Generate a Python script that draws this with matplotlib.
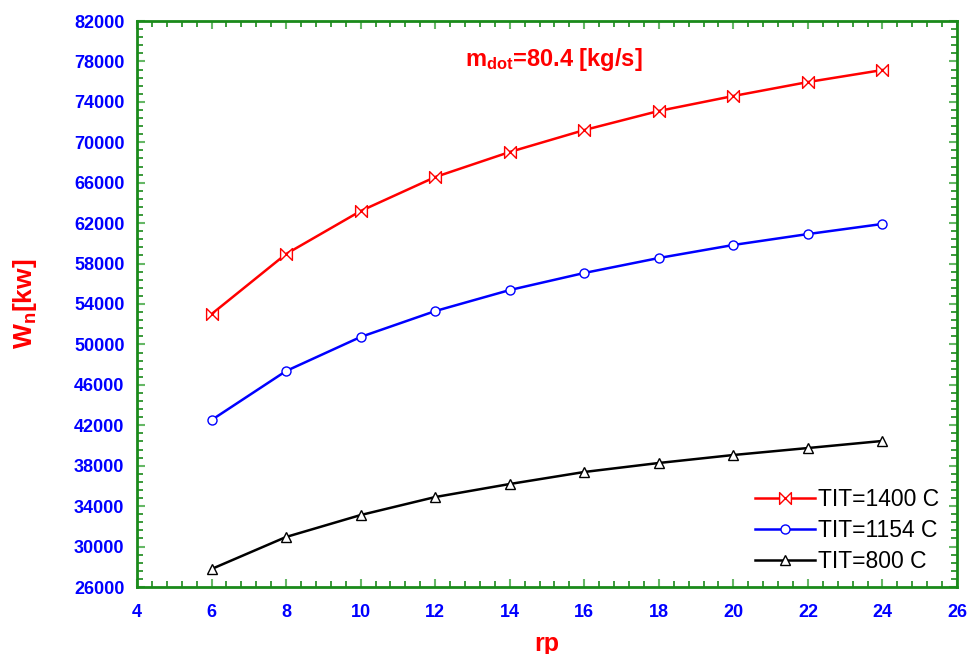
import matplotlib
matplotlib.use("Agg")
import matplotlib.pyplot as plt
from matplotlib.path import Path
import numpy as np

plt.rcParams['font.family'] = ['Liberation Sans', 'DejaVu Sans']
plt.rcParams['mathtext.fontset'] = 'custom'
plt.rcParams['mathtext.rm'] = 'Liberation Sans:bold'
plt.rcParams['mathtext.bf'] = 'Liberation Sans:bold'
plt.rcParams['mathtext.it'] = 'Liberation Sans:bold'

rp = [6, 8, 10, 12, 14, 16, 18, 20, 22, 24]
w_1400 = [53000, 58950, 63200, 66560, 69040, 71210, 73100, 74580, 75960, 77150]
w_1154 = [42520, 47370, 50740, 53300, 55380, 57070, 58550, 59840, 60920, 61920]
w_800 = [27780, 30950, 33120, 34900, 36190, 37380, 38270, 39060, 39750, 40450]
labels = ['TIT=1400 C', 'TIT=1154 C', 'TIT=800 C']
x_ticks = [4, 6, 8, 10, 12, 14, 16, 18, 20, 22, 24, 26]
y_ticks = [26000, 30000, 34000, 38000, 42000, 46000, 50000, 54000,
           58000, 62000, 66000, 70000, 74000, 78000, 82000]

bowtie = Path([(-1, -1), (-1, 1), (1, -1), (1, 1), (-1, -1)],
              [Path.MOVETO, Path.LINETO, Path.LINETO, Path.LINETO, Path.CLOSEPOLY])

fig = plt.figure(figsize=(9.69, 6.54), dpi=100)
ax = fig.add_axes([137/969, 1-587/654, (957-137)/969, (587-21)/654])

ax.plot(rp, w_1400, color='red', lw=1.8, marker=bowtie, ms=8.5, mfc='white', mec='red', mew=1.0, label=labels[0])
ax.plot(rp, w_1154, color='blue', lw=1.8, marker='o', ms=6.5, mfc='white', mec='blue', mew=1.0, label=labels[1])
ax.plot(rp, w_800, color='black', lw=1.8, marker='^', ms=7.5, mfc='white', mec='black', mew=1.0, label=labels[2])

ax.set_xlim(x_ticks[0], x_ticks[-1])
ax.set_ylim(y_ticks[0], y_ticks[-1])
ax.set_xticks(x_ticks)
ax.set_yticks(y_ticks)
ax.set_xticks(np.arange(x_ticks[0], x_ticks[-1] + 0.01, 0.4), minor=True)
ax.set_yticks(np.arange(y_ticks[0], y_ticks[-1] + 1, 800), minor=True)

green = '#1a8a1a'
for s in ax.spines.values():
    s.set_color(green)
    s.set_linewidth(2)
ax.tick_params(which='both', direction='in', top=True, right=True, color=green)
ax.tick_params(which='major', length=6, width=1.5, colors='#66b866', labelcolor='blue')
ax.tick_params(axis='x', which='major', pad=12)
ax.tick_params(axis='y', which='major', pad=9)
ax.tick_params(which='minor', length=4, width=1.2, colors=green)
for lab in ax.get_xticklabels() + ax.get_yticklabels():
    lab.set_fontsize(13)
    lab.set_fontweight('bold')
    lab.set_color('blue')

ax.set_xlabel('rp', color='red', fontsize=18, fontweight='bold', labelpad=8)
ax.set_ylabel(r'$\mathbf{W_n[kw]}$', color='red', fontsize=19, labelpad=25)

ax.text(0.508, 0.932, r'm$_{\mathbf{dot}}$=80.4 [kg/s]', transform=ax.transAxes,
        color='red', fontsize=17, fontweight='bold', ha='center', va='center')

leg = ax.legend(loc='lower right', frameon=False, fontsize=16.5, handlelength=2.6,
                handletextpad=0.15, labelspacing=0.35, borderaxespad=0.2,
                bbox_to_anchor=(0.995, 0.0))

fig.savefig('out.png', dpi=100)
